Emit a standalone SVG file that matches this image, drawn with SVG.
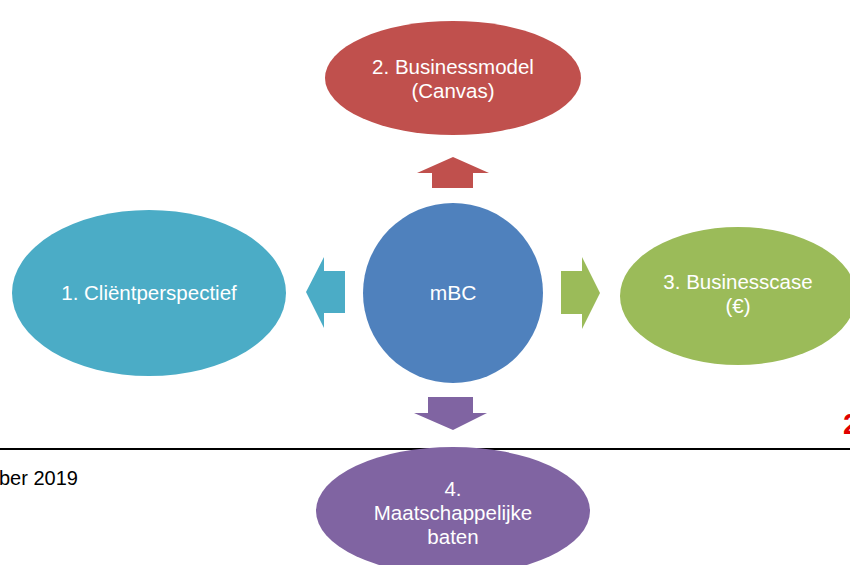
<svg xmlns="http://www.w3.org/2000/svg" width="850" height="565" viewBox="0 0 850 565">
<style>
.t{font-family:"Liberation Sans",Arial,sans-serif;font-size:20.5px;fill:#fff;text-anchor:middle}
</style>
<rect width="850" height="565" fill="#fff"/>
<line x1="0" y1="449" x2="850" y2="449" stroke="#000" stroke-width="2"/>
<text x="-1" y="485" style="font-family:'Liberation Sans',Arial,sans-serif;font-size:20px;fill:#000">ber 2019</text>
<text x="843" y="434" style="font-family:'Liberation Sans',Arial,sans-serif;font-size:29px;font-weight:bold;fill:#e00000">2</text>
<g id="connectors">
<polygon points="453,157 489,173 473,173 473,188 432,188 432,173 417,173" fill="#C0504D"/>
<polygon points="306,292 324,257 324,271 345,271 345,313 324,313 324,328" fill="#4BACC6"/>
<polygon points="600,293 582,257 582,271 561,271 561,314 582,314 582,329" fill="#9BBB59"/>
<polygon points="453,430 487,413 473,413 473,397 428,397 428,413 414,413" fill="#8064A2"/>
</g>
<g id="n2">
<ellipse cx="453" cy="78" rx="128" ry="57" fill="#C0504D"/>
<text class="t" x="453" y="74">2. Businessmodel</text>
<text class="t" x="453" y="98">(Canvas)</text>
</g>
<g id="mbc">
<circle cx="453" cy="293" r="90" fill="#4F81BD"/>
<text class="t" x="453" y="300" style="font-size:21px">mBC</text>
</g>
<g id="n1">
<ellipse cx="149" cy="293" rx="137" ry="83" fill="#4BACC6"/>
<text class="t" x="149" y="300">1. Cliëntperspectief</text>
</g>
<g id="n3">
<ellipse cx="738" cy="296" rx="118" ry="69" fill="#9BBB59"/>
<text class="t" x="738" y="289">3. Businesscase</text>
<text class="t" x="738" y="313">(€)</text>
</g>
<g id="n4">
<ellipse cx="453" cy="511" rx="137" ry="64" fill="#8064A2"/>
<text class="t" x="453" y="496">4.</text>
<text class="t" x="453" y="520">Maatschappelijke</text>
<text class="t" x="453" y="544">baten</text>
</g>
</svg>
